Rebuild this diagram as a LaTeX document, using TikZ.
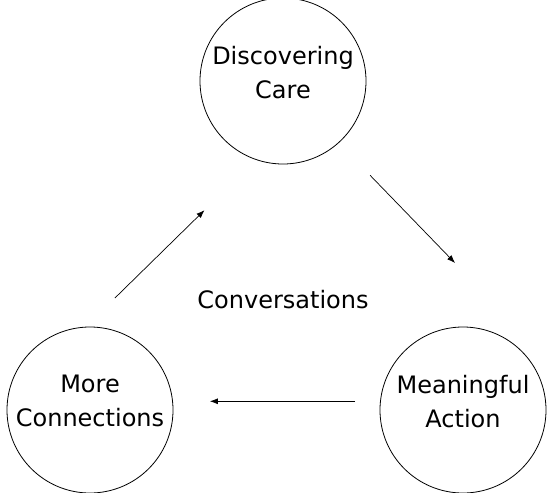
\documentclass[tikz,border=0pt]{standalone}
\usepackage{fontspec}
\setmainfont{DejaVu Sans}
\usetikzlibrary{arrows.meta, positioning}

\begin{document}
\begin{tikzpicture}[x=1pt, y=1pt, node distance=2cm, on grid, >={Latex[length=8pt,width=6pt]},
        topic/.style={circle, draw, line width=0.8pt, minimum size=166pt, inner sep=-20pt,
            align=center, text depth=18pt, font=\fontsize{24}{34}\selectfont},
        flow/.style={->, line width=0.7pt}]
        \useasboundingbox (0,0) rectangle (552,-493);

        \node[topic]            (care)                                      at (283,-81) {Discovering\\Care};
        \node[topic]            (conn) [below left=329pt and 193pt of care]  {More\\Connections};
        \node[topic]            (act)  [below right=329pt and 180pt of care] {Meaningful\\Action};
        \node[font=\fontsize{24}{30}\selectfont] (conv) [below=219pt of care] {Conversations};
        \coordinate[above left=147pt and 8pt of act] (tip);

        \path[flow] (conn.93) edge [shorten <=41pt, shorten >=72pt] (care.251)
        (care.312) edge [shorten <=45pt] (tip)
        (act.174) edge [shorten <=25pt, shorten >=37pt] (conn.6)
        ;
    \end{tikzpicture}
\end{document}
